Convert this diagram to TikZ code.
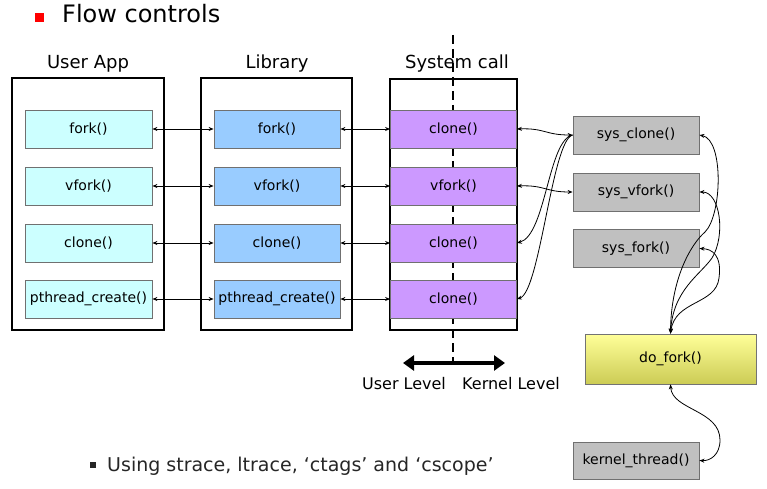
\documentclass[tikz,border=0pt]{standalone}
\usepackage{fontspec}
\setmainfont{DejaVu Sans}
\usetikzlibrary{arrows.meta}
\definecolor{ucyan}{HTML}{CCFFFF}
\definecolor{lblue}{HTML}{99CCFF}
\definecolor{spurple}{HTML}{CC99FF}
\definecolor{sgray}{HTML}{C0C0C0}
\definecolor{bgray}{HTML}{707070}
\definecolor{ytop}{HTML}{FFFF99}
\definecolor{ybot}{HTML}{CCCC55}
\begin{document}
\begin{tikzpicture}[x=1pt,y=-1pt,
  outerbox/.style={draw=black, line width=1.4pt, fill=none},
  innerbox/.style={draw=bgray, line width=0.8pt, minimum height=38pt, inner sep=0pt, font=\fontsize{14}{16}\selectfont},
  uabox/.style={innerbox, fill=ucyan, minimum width=127pt},
  libbox/.style={innerbox, fill=lblue, minimum width=126pt},
  scbox/.style={innerbox, fill=spurple, minimum width=126pt},
  sysbox/.style={innerbox, fill=sgray, minimum width=126pt},
  header/.style={font=\fontsize{18}{21}\selectfont},
  conn/.style={line width=0.8pt, {Stealth[length=5pt,width=4pt]}-{Stealth[length=5pt,width=4pt]}},
  oneway/.style={line width=0.8pt, -{Stealth[length=5pt,width=4pt]}},
  lvl/.style={font=\fontsize{16}{19}\selectfont}
]
\useasboundingbox (0,0) rectangle (767,489);

% title
\node[fill=red, minimum size=9pt, inner sep=0pt] (redsq) at (39.5,17.5) {};
\node[anchor=west, inner sep=0pt, font=\fontsize{24}{28}\selectfont] (title) at (62,14) {Flow controls};

% dashed divider (behind boxes)
\coordinate (dtop) at (453,35);
\coordinate (dbot) at (453,362);
\draw[line width=2pt, dash pattern=on 9pt off 5pt] (dtop) -- (dbot);

% outer boxes
\node[outerbox, minimum width=152pt, minimum height=252pt] (uaout) at (88,204) {};
\node[outerbox, minimum width=151pt, minimum height=252pt] (libout) at (276.5,204) {};
\node[outerbox, minimum width=127pt, minimum height=251pt] (scout) at (453.5,204.5) {};

\node[header] (hua) at (88,64) {User App};
\node[header] (hlib) at (277,64) {Library};
\node[header] (hsc) at (457,64) {System call};

% inner boxes
\node[uabox] (ua1) at (88.5,129) {fork()};
\node[uabox] (ua2) at (88.5,186) {vfork()};
\node[uabox] (ua3) at (88.5,243) {clone()};
\node[uabox] (ua4) at (88.5,299) {pthread\_create()};

\node[libbox] (lib1) at (277,129) {fork()};
\node[libbox] (lib2) at (277,186) {vfork()};
\node[libbox] (lib3) at (277,243) {clone()};
\node[libbox] (lib4) at (277,299) {pthread\_create()};

\node[scbox] (sc1) at (453.5,129) {clone()};
\node[scbox] (sc2) at (453.5,186) {vfork()};
\node[scbox] (sc3) at (453.5,243) {clone()};
\node[scbox] (sc4) at (453.5,299) {clone()};

\node[sysbox] (sys1) at (636,135) {sys\_clone()};
\node[sysbox] (sys2) at (636,192) {sys\_vfork()};
\node[sysbox] (sys3) at (636,248.5) {sys\_fork()};

\node[innerbox, draw=black!55, minimum width=171pt, minimum height=50pt, top color=ytop, bottom color=ybot] (dofork) at (670.5,359) {do\_fork()};
\node[sysbox, minimum height=37pt] (kt) at (636,460.5) {kernel\_thread()};

% horizontal connectors
\foreach \i in {1,2,3,4}{
  \draw[conn] (ua\i.east) -- (lib\i.west);
  \draw[conn] (lib\i.east) -- (sc\i.west);
}

% syscall to sys_* connectors
\draw[conn] (sc1.east) .. controls (545,128) and (545,135) .. (sys1.west);
\draw[conn] (sc2.east) .. controls (545,185) and (545,192) .. (sys2.west);
\draw[oneway] (sys1.west) .. controls (548,140) and (546,235) .. (sc3.east);
\draw[oneway] (sys1.west) .. controls (552,140) and (540,292) .. (sc4.east);

% do_fork to sys_* connectors
\draw[conn] (dofork.north) .. controls (671,280) and (690,245) .. (705,232) .. controls (722,215) and (724,140) .. (sys1.east);
\draw[conn] (dofork.north) .. controls (673,290) and (700,275) .. (712,258) .. controls (726,235) and (720,192) .. (sys2.east);
\draw[conn] (dofork.north) .. controls (675,300) and (716,305) .. (719,278) .. controls (722,255) and (712,249) .. (sys3.east);

% do_fork to kernel_thread
\draw[conn] (dofork.south) .. controls (672,410) and (720,410) .. (720,440) .. controls (720,455) and (710,461) .. (kt.east);

% level arrow
\coordinate (ul) at (403,363);
\coordinate (kl) at (505,363);
\draw[line width=4pt, {Triangle[length=11pt,width=15pt]}-{Triangle[length=11pt,width=15pt]}] (ul) -- (kl);
\node[lvl] (ulab) at (404,384) {User Level};
\node[lvl] (klab) at (511,384) {Kernel Level};

% bullet text
\node[fill=black!85, minimum size=6pt, inner sep=0pt] (bul) at (93,465) {};
\node[anchor=west, inner sep=0pt, text=black!85, font=\fontsize{19}{22}\selectfont] (btext) at (107,466) {Using strace, ltrace, ‘ctags’ and ‘cscope’};
\end{tikzpicture}
\end{document}
